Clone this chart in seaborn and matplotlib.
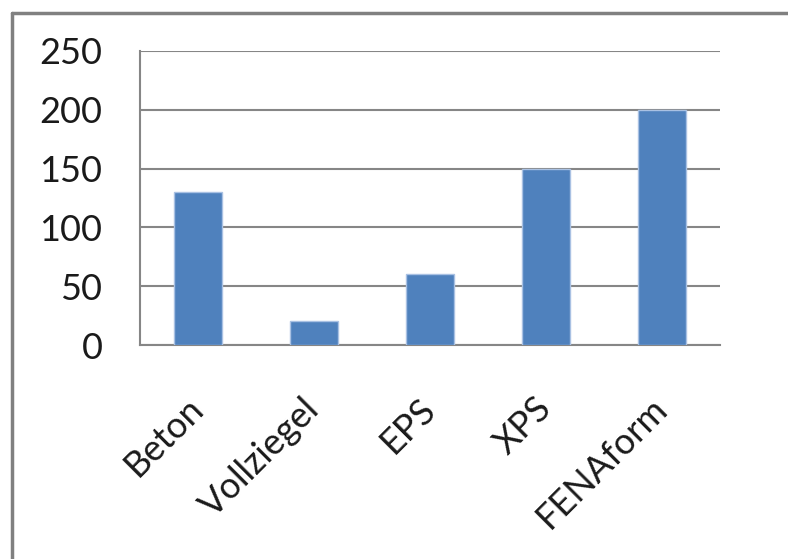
import matplotlib
matplotlib.use("Agg")
import matplotlib.pyplot as plt
from matplotlib.lines import Line2D
import seaborn as sns
import pandas as pd

materials = ["Beton", "Vollziegel", "EPS", "XPS", "FENAform"]
values = [130, 20, 60, 150, 200]
y_ticks = [0, 50, 100, 150, 200, 250]

df = pd.DataFrame({"material": materials, "value": values})

sns.set_style("white")
plt.rcParams["font.family"] = ["Lato", "DejaVu Sans"]

fig = plt.figure(figsize=(7.88, 5.59), dpi=100)
ax = fig.add_axes([0.1777, 0.3828, 0.736, 0.526])

sns.barplot(data=df, x="material", y="value", color="#4F81BD", width=0.41,
            edgecolor="#A9C1E3", linewidth=1.0, saturation=1, ax=ax, zorder=3)

grid_col = "#868686"
ax.set_ylim(0, 250)
ax.set_xlim(-0.5, len(materials) - 0.5)
ax.set_yticks(y_ticks)
ax.yaxis.grid(True, color=grid_col, linewidth=1.5, zorder=0)
ax.set_axisbelow(True)
ax.tick_params(axis="y", length=15, width=1.5, color=grid_col, labelsize=26,
               pad=12, labelcolor="#1a1a1a")

# category ticks sit between the bars
ax.set_xticks(range(len(materials)))
ax.set_xticklabels(materials, rotation=45, ha="right", va="center",
                   rotation_mode="anchor", fontsize=26, color="#1a1a1a")
ax.tick_params(axis="x", which="major", length=0, pad=42)
ax.set_xticks([i - 0.5 for i in range(len(materials) + 1)], minor=True)
ax.tick_params(axis="x", which="minor", length=13, width=1.5, color=grid_col,
               direction="out")

for side in ["top", "right"]:
    ax.spines[side].set_visible(False)
for side in ["left", "bottom"]:
    ax.spines[side].set_color(grid_col)
    ax.spines[side].set_linewidth(1.5)

ax.set_xlabel("")
ax.set_ylabel("")

# chart frame (only left and top visible in the crop)
fig.add_artist(Line2D([0.0152, 0.0152], [0, 0.977], color="#808080", linewidth=2.5))
fig.add_artist(Line2D([0.0152, 1.0], [0.977, 0.977], color="#808080", linewidth=2.5))

fig.savefig("out.png", dpi=100)
